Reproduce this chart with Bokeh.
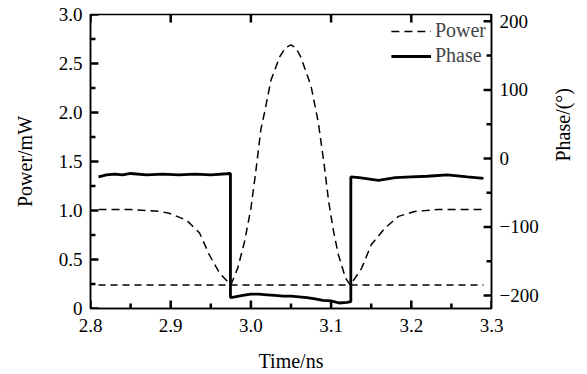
import math
from bokeh.plotting import figure
from bokeh.models import Range1d, LinearAxis, FixedTicker, Legend, LegendItem
from bokeh.embed import file_html
from bokeh.resources import INLINE

# ---- data ----
time_p = [2.81, 2.85, 2.887, 2.899, 2.92, 2.936, 2.948, 2.961, 2.975, 2.9835, 2.992, 3.000,
          3.006, 3.0125, 3.017, 3.025, 3.036, 3.043, 3.05, 3.056, 3.062, 3.075, 3.084, 3.091,
          3.097, 3.103, 3.109, 3.118, 3.124, 3.138, 3.150, 3.167, 3.184, 3.204, 3.233, 3.29]
power = [1.01, 1.01, 0.99, 0.97, 0.90, 0.77, 0.55, 0.36, 0.24, 0.41, 0.68, 1.02,
         1.39, 1.83, 2.00, 2.33, 2.57, 2.66, 2.69, 2.66, 2.57, 2.27, 1.90, 1.49,
         1.09, 0.79, 0.55, 0.31, 0.24, 0.41, 0.65, 0.82, 0.94, 0.99, 1.01, 1.01]

ref_t = [2.81, 3.29]
ref_power = [0.24, 0.24]

phase_t = [2.81, 2.82, 2.83, 2.84, 2.85, 2.87, 2.89, 2.91, 2.93, 2.95, 2.9745, 2.9745,
           2.98, 2.99, 3.00, 3.01, 3.02, 3.03, 3.04, 3.05, 3.06, 3.07, 3.08, 3.09, 3.10, 3.11,
           3.12, 3.1246, 3.1246, 3.135, 3.159, 3.18, 3.20, 3.22, 3.245, 3.27, 3.29]
phase = [-27, -24, -23, -24, -22, -24, -23, -24, -23, -24, -22, -203,
         -202, -200, -198, -198, -199, -200, -201, -201, -202, -203, -205, -207, -208, -211,
         -210, -209, -27, -28, -32, -28, -27, -26, -24, -27, -29]

x_ticks = [2.8, 2.9, 3.0, 3.1, 3.2, 3.3]
x_labels = ["2.8", "2.9", "3.0", "3.1", "3.2", "3.3"]
x_minor = [2.85, 2.95, 3.05, 3.15, 3.25]
power_ticks = [0, 0.5, 1.0, 1.5, 2.0, 2.5, 3.0]
power_labels = ["0", "0.5", "1.0", "1.5", "2.0", "2.5", "3.0"]
power_minor = [0.25, 0.75, 1.25, 1.75, 2.25, 2.75]
phase_ticks = [-200, -100, 0, 100, 200]
phase_labels = ["\u2212200", "\u2212100", "0", "100", "200"]
phase_minor = [-150, -50, 50, 150]

FONT = "Liberation Serif"
X0, X1, Y0, Y1 = 2.8, 3.3, 0.0, 3.0
PH0, PH1 = -219, 210
FRAME_W, FRAME_H = 404, 297   # frame size in px (587-90-93, 374-14-63)

p = figure(width=587, height=374, output_backend="svg", toolbar_location=None,
           x_range=Range1d(X0, X1), y_range=Range1d(Y0, Y1),
           min_border_left=90, min_border_right=93, min_border_top=14, min_border_bottom=63)
p.extra_y_ranges = {"phase": Range1d(PH0, PH1)}
p.grid.visible = False
p.outline_line_color = "black"
p.outline_line_width = 1.5

def style(ax):
    ax.axis_line_width = 1.5
    ax.axis_line_color = "black"
    ax.major_tick_in = 0
    ax.major_tick_out = 0
    ax.minor_tick_in = 0
    ax.minor_tick_out = 0
    ax.major_label_text_font = FONT
    ax.major_label_text_font_size = "19px"
    ax.major_label_text_color = "black"
    ax.axis_label_text_font = FONT
    ax.axis_label_text_font_size = "20px"
    ax.axis_label_text_font_style = "normal"
    ax.axis_label_text_color = "black"
    ax.major_label_standoff = 8

xa = p.xaxis[0]
xa.ticker = FixedTicker(ticks=x_ticks, minor_ticks=[])
xa.major_label_overrides = dict(zip(x_ticks, x_labels))
xa.axis_label = "Time/ns"
style(xa)
xa.major_label_standoff = 10
xa.axis_label_standoff = 15

ya = p.yaxis[0]
ya.ticker = FixedTicker(ticks=power_ticks, minor_ticks=[])
ya.major_label_overrides = dict(zip(power_ticks, power_labels))
ya.axis_label = "Power/mW"
style(ya)
ya.axis_label_standoff = 20

ra = LinearAxis(y_range_name="phase", axis_label="Phase/(°)",
                ticker=FixedTicker(ticks=phase_ticks, minor_ticks=[]))
ra.major_label_overrides = dict(zip(phase_ticks, phase_labels))
style(ra)
ra.axis_label_standoff = 21
if "axis_label_orientation" in ra.properties():
    ra.axis_label_orientation = math.pi / 2
p.add_layout(ra, "right")

# inward tick marks as segments; lengths converted from px to data units
MAJ, MIN = 8, 5
dx = (X1 - X0) / FRAME_W
dy = (Y1 - Y0) / FRAME_H
tk = dict(line_color="black", line_width=2.5)
p.segment(x0=x_ticks, y0=[Y0] * 6, x1=x_ticks, y1=[Y0 + MAJ * dy] * 6, **tk)
p.segment(x0=x_minor, y0=[Y0] * 5, x1=x_minor, y1=[Y0 + MIN * dy] * 5, **tk)
p.segment(x0=x_ticks, y0=[Y1] * 6, x1=x_ticks, y1=[Y1 - MAJ * dy] * 6, **tk)
p.segment(x0=[X0] * 7, y0=power_ticks, x1=[X0 + MAJ * dx] * 7, y1=power_ticks, **tk)
p.segment(x0=[X0] * 6, y0=power_minor, x1=[X0 + MIN * dx] * 6, y1=power_minor, **tk)
p.segment(x0=[X1] * 5, y0=phase_ticks, x1=[X1 - MAJ * dx] * 5, y1=phase_ticks,
          y_range_name="phase", **tk)
p.segment(x0=[X1] * 4, y0=phase_minor, x1=[X1 - MIN * dx] * 4, y1=phase_minor,
          y_range_name="phase", **tk)

r_pow = p.line(time_p, power, line_color="black", line_width=1.5, line_dash="8 5")
p.line(ref_t, ref_power, line_color="black", line_width=1.5, line_dash="7 5")
r_ph = p.line(phase_t, phase, line_color="black", line_width=2.8, y_range_name="phase")

legend = Legend(items=[LegendItem(label="Power", renderers=[r_pow]),
                       LegendItem(label="Phase", renderers=[r_ph])],
                location="top_right", border_line_alpha=0, background_fill_alpha=0,
                label_text_font=FONT, label_text_font_size="20px", glyph_width=40,
                spacing=2, padding=3, margin=2, label_standoff=4)
p.add_layout(legend)

open("out.html", "w").write(file_html(p, INLINE))
